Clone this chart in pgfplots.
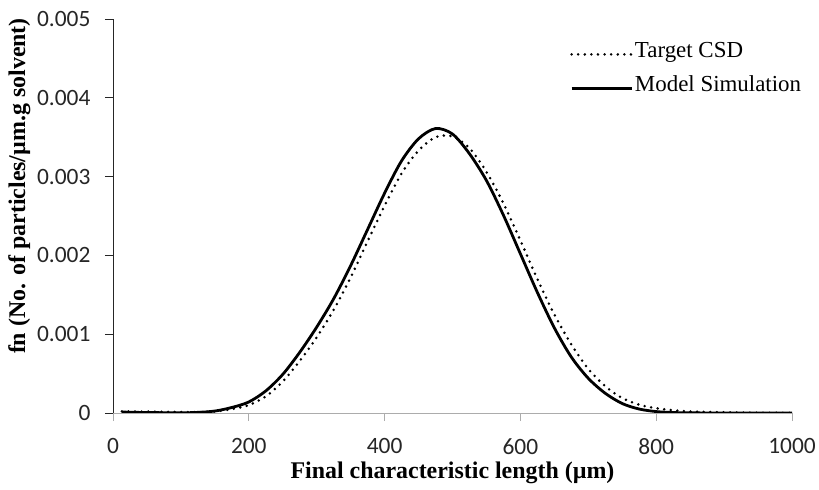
\documentclass[border=0pt]{standalone}
\usepackage{pgfplots}
\pgfplotsset{compat=1.18}
\usepackage{fontspec}
\setmainfont{Liberation Serif}
\newfontfamily\tickfont{Carlito}
\begin{document}
\begin{tikzpicture}
\path[use as bounding box] (0bp,0bp) rectangle (819bp,490bp);
\begin{axis}[
  at={(113bp,77bp)}, anchor=south west,
  scale only axis, width=679bp, height=394bp,
  xmin=0, xmax=1000, ymin=0, ymax=0.005,
  axis lines=left,
  axis line style={-, line width=0.8bp},
  x axis line style={gray!65},
  y axis line style={black!85},
  every x tick/.append style={gray!65, line width=0.8bp},
  every y tick/.append style={black!85, line width=0.8bp},
  tick align=outside, major tick length=8bp,
  xtick={0,200,400,600,800,1000},
  ytick={0,0.001,0.002,0.003,0.004,0.005},
  scaled y ticks=false,
  /pgf/number format/assume math mode=true,
  /pgf/number format/1000 sep={},
  yticklabel style={/pgf/number format/fixed, /pgf/number format/precision=3, xshift=-11bp},
  xticklabel style={yshift=-14bp},
  ticklabel style={font=\tickfont\fontsize{23.5}{25}\selectfont, text=black!85},
  xlabel={\textbf{Final characteristic length (µm)}},
  ylabel={\textbf{fn (No. of particles/µm.g solvent)}},
  xlabel style={at={(axis description cs:0.5,-0.165)}, anchor=base, font=\fontsize{24}{26}\selectfont},
  ylabel style={at={(axis description cs:-0.1296,0.576)}, anchor=base, font=\fontsize{24}{26}\selectfont},
  legend image code/.code={\draw[#1] (0bp,-4bp) -- (60bp,-4bp);},
  legend cell align=left,
  legend style={at={(axis description cs:0.673,0.947)}, anchor=north west, draw=none, fill=none,
    inner sep=0pt, row sep=13bp, font=\fontsize{23}{26}\selectfont, nodes={inner sep=2bp}},
]
\addplot[black, line width=2.8bp, line cap=round, dash pattern=on 0bp off 6.6bp, smooth] coordinates {
(13,0.00002) (50,0.000018) (100,0.000012) (125,0.000012) (150,0.00002) (175,0.00005)
(200,0.00010) (225,0.00021) (250,0.00040) (275,0.00066) (300,0.00096) (325,0.00131)
(350,0.00172) (375,0.00218) (400,0.00263) (425,0.00304) (450,0.00333) (475,0.00350)
(500,0.00351) (525,0.00336) (550,0.00306) (575,0.00266) (600,0.00219)
(625,0.00170) (650,0.00125) (675,0.00087) (700,0.00056) (725,0.00034) (750,0.00019)
(775,0.000105) (800,0.00006) (825,0.000035) (850,0.00002) (900,0.000008) (950,0.000003)
(1000,0.000001)
};
\addlegendentry{Target CSD}
\addplot[black, line width=2.8bp, smooth] coordinates {
(13,0.000012) (50,0.000006) (100,0.000003) (125,0.000008) (150,0.000025) (175,0.00007)
(200,0.00014) (225,0.00028) (250,0.00049) (275,0.00077) (300,0.00109) (325,0.00145)
(350,0.00187) (375,0.00233) (400,0.00279) (425,0.00320) (450,0.00348) (475,0.00361)
(500,0.00354) (525,0.00329) (550,0.00295) (575,0.00251)
(600,0.00202) (625,0.00153) (650,0.00108) (675,0.00071) (700,0.00044) (725,0.00025)
(750,0.00012) (775,0.00005) (800,0.000018) (825,0.000006) (850,0.000002) (900,0.0000005)
(1000,0)
};
\addlegendentry{Model Simulation}
\end{axis}
\end{tikzpicture}
\end{document}
